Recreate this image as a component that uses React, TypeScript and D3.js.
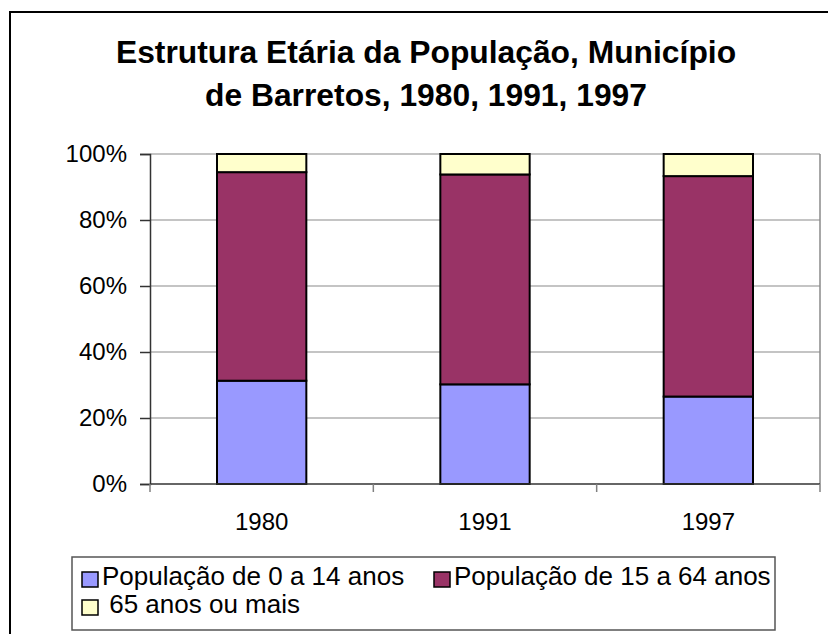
import React, { useRef, useEffect } from "react";
import * as d3 from "d3";

// chart values
const years = ["1980", "1991", "1997"];
const idade0a14 = [31.3, 30.2, 26.5];
const idade15a64 = [63.2, 63.6, 66.8];
const idade65mais = [5.5, 6.2, 6.7];
const seriesNames = [
  "População de 0 a 14 anos",
  "População de 15 a 64 anos",
  " 65 anos ou mais",
];
const seriesColors = ["#9999FF", "#993366", "#FFFFCC"];
const yTicks = [0, 20, 40, 60, 80, 100];
const titleLines = ["Estrutura Etária da População, Município", "de Barretos, 1980, 1991, 1997"];

const FONT = "'Liberation Sans', Arial, sans-serif";

const App = () => {
  const svgRef = useRef<SVGSVGElement>(null);

  useEffect(() => {
    const width = 828;
    const height = 634;
    const plot = { left: 150, right: 820, top: 154, bottom: 484 };

    const svg = d3.select(svgRef.current)
      .attr("width", width)
      .attr("height", height);
    svg.selectAll("*").remove();

    // outer chart frame (runs off the right and bottom of the picture)
    svg.append("rect")
      .attr("x", 10).attr("y", 12)
      .attr("width", 840).attr("height", 660)
      .attr("fill", "white")
      .attr("stroke", "black")
      .attr("stroke-width", 2);

    // title
    svg.append("g").selectAll("text")
      .data(titleLines)
      .enter()
      .append("text")
      .attr("x", 426)
      .attr("y", (d, i) => 63 + i * 43)
      .attr("text-anchor", "middle")
      .attr("font-family", FONT)
      .attr("font-weight", "bold")
      .attr("font-size", 31.8)
      .text(d => d);

    const x = d3.scaleBand()
      .domain(years)
      .range([plot.left, plot.right])
      .paddingInner(0.6)
      .paddingOuter(0.3);

    const y = d3.scaleLinear()
      .domain([0, 100])
      .range([plot.bottom, plot.top]);

    // gridlines
    svg.append("g").selectAll("line")
      .data(yTicks.filter(t => t > 0))
      .enter()
      .append("line")
      .attr("x1", plot.left).attr("x2", plot.right)
      .attr("y1", d => y(d)).attr("y2", d => y(d))
      .attr("stroke", "#8a8a8a")
      .attr("stroke-width", 1.2);

    // right border of plot area
    svg.append("line")
      .attr("x1", plot.right).attr("x2", plot.right)
      .attr("y1", plot.top).attr("y2", plot.bottom)
      .attr("stroke", "#8a8a8a")
      .attr("stroke-width", 1.5);

    // stacked bars
    const table = years.map((yr, i) => ({
      year: yr,
      a: idade0a14[i],
      b: idade15a64[i],
      c: idade65mais[i],
    }));
    const stacked = d3.stack<any>().keys(["a", "b", "c"])(table);

    const layers = svg.append("g").selectAll("g")
      .data(stacked)
      .enter()
      .append("g")
      .attr("fill", (d, i) => seriesColors[i]);

    layers.selectAll("rect")
      .data(d => d)
      .enter()
      .append("rect")
      .attr("x", d => x(d.data.year)!)
      .attr("width", x.bandwidth())
      .attr("y", d => y(d[1]))
      .attr("height", d => y(d[0]) - y(d[1]))
      .attr("stroke", "black")
      .attr("stroke-width", 2);

    // y axis
    const yAxis = svg.append("g")
      .attr("transform", `translate(${plot.left},0)`)
      .call(d3.axisLeft(y).tickValues(yTicks).tickSize(10).tickPadding(13).tickFormat(d => `${d}%`));
    yAxis.select(".domain").attr("stroke", "#333").attr("stroke-width", 1.5);
    yAxis.selectAll(".tick line").attr("stroke", "#333").attr("stroke-width", 1.5);
    yAxis.selectAll("text")
      .attr("font-family", FONT)
      .attr("font-size", 24)
      .attr("fill", "black");

    // x axis baseline with ticks at category boundaries
    const xg = svg.append("g");
    xg.append("line")
      .attr("x1", plot.left).attr("x2", plot.right)
      .attr("y1", plot.bottom).attr("y2", plot.bottom)
      .attr("stroke", "#333")
      .attr("stroke-width", 1.5);
    const step = x.step();
    const bounds = d3.range(years.length + 1).map(i => x(years[0])! - step * 0.3 + i * step);
    xg.selectAll("line.tick")
      .data(bounds)
      .enter()
      .append("line")
      .attr("class", "tick")
      .attr("x1", d => d).attr("x2", d => d)
      .attr("y1", plot.bottom).attr("y2", plot.bottom + 8)
      .attr("stroke", "#808080")
      .attr("stroke-width", 1.5);
    xg.selectAll("text")
      .data(years)
      .enter()
      .append("text")
      .attr("x", d => x(d)! + x.bandwidth() / 2)
      .attr("y", 530)
      .attr("text-anchor", "middle")
      .attr("font-family", FONT)
      .attr("font-size", 24)
      .text(d => d);

    // legend
    const legend = svg.append("g");
    legend.append("rect")
      .attr("x", 72).attr("y", 557)
      .attr("width", 703).attr("height", 73)
      .attr("fill", "white")
      .attr("stroke", "#555")
      .attr("stroke-width", 1.5);
    const legendPos = [
      { x: 82, y: 572 },
      { x: 434, y: 572 },
      { x: 82, y: 600 },
    ];
    const items = legend.selectAll("g.item")
      .data(seriesNames)
      .enter()
      .append("g")
      .attr("class", "item")
      .attr("transform", (d, i) => `translate(${legendPos[i].x},${legendPos[i].y})`);
    items.append("rect")
      .attr("width", 16).attr("height", 15)
      .attr("fill", (d, i) => seriesColors[i])
      .attr("stroke", "black")
      .attr("stroke-width", 1.5);
    items.append("text")
      .attr("x", 20)
      .attr("y", 13)
      .attr("font-family", FONT)
      .attr("font-size", 26)
      .attr("xml:space", "preserve")
      .style("white-space", "pre")
      .text(d => d);
  }, []);

  return <svg ref={svgRef} style={{ position: "absolute", left: 0, top: 0 }} />;
};

export default App;
